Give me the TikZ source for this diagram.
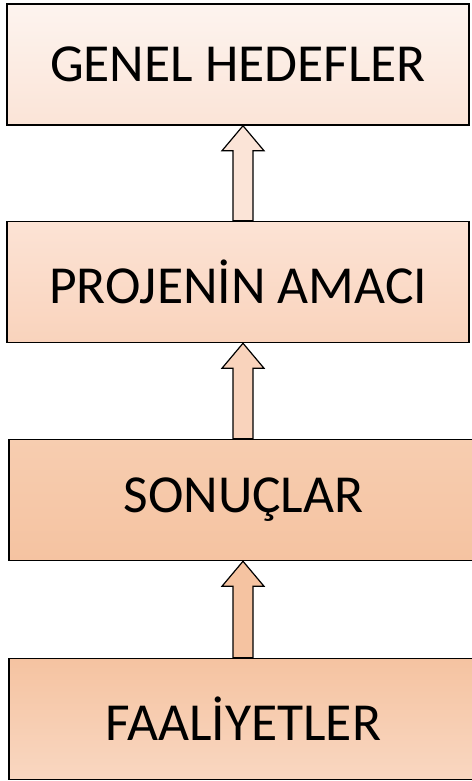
\documentclass[tikz,border=0pt]{standalone}
\usepackage{fontspec}
\setmainfont{Carlito}
\usetikzlibrary{calc}

\definecolor{peachA}{HTML}{FDF4EF}
\definecolor{peachB}{HTML}{FBE4D7}
\definecolor{peachC}{HTML}{FCE3D5}
\definecolor{peachD}{HTML}{F9D3BC}
\definecolor{peachE}{HTML}{F7CDB0}
\definecolor{peachF}{HTML}{F5C3A1}
\definecolor{peachG}{HTML}{F9D7C1}

\tikzset{
  box/.style={draw=black, line width=1.5pt, rectangle, inner sep=0pt,
    minimum height=121pt, font=\fontsize{53.5}{58}\selectfont},
  arrline/.style={draw=black, line width=1.2pt, line join=miter}
}

% block arrow from the top of #1 up to the bottom of #2
\newcommand\blockarr[3]{%
  \draw[arrline, fill=#3] ($(#1.north -| ax)+(-10,0)$) -- ($(#2.south -| ax)+(-10,25)$)
    -- ($(#2.south -| ax)+(-21,25)$) -- (#2.south -| ax) -- ($(#2.south -| ax)+(21,25)$)
    -- ($(#2.south -| ax)+(10,25)$) -- ($(#1.north -| ax)+(10,0)$) -- cycle;}

\begin{document}
\begin{tikzpicture}[x=1pt, y=-1pt]
    \useasboundingbox (0,0) rectangle (471,781);
    \coordinate (ax) at (243,0);

    % Top level - general goals
    \node[box, minimum width=462pt, top color=peachA, bottom color=peachB] (hedef) at (238,64.5) {GENEL HEDEFLER};

    % Project purpose
    \node[box, minimum width=462pt, top color=peachC, bottom color=peachD] (amac) at (238,282) {PROJENİN AMACI};

    % Results
    \node[box, minimum width=469pt, top color=peachE, bottom color=peachF] (sonuc) at (243.5,500) {SONUÇLAR};

    % Activities
    \node[box, minimum width=469pt, top color=peachF, bottom color=peachG] (faal) at (243.5,719) {FAALİYETLER};

    % Arrows between levels
    \blockarr{amac}{hedef}{peachB}
    \blockarr{sonuc}{amac}{peachD}
    \blockarr{faal}{sonuc}{peachF}
\end{tikzpicture}
\end{document}
